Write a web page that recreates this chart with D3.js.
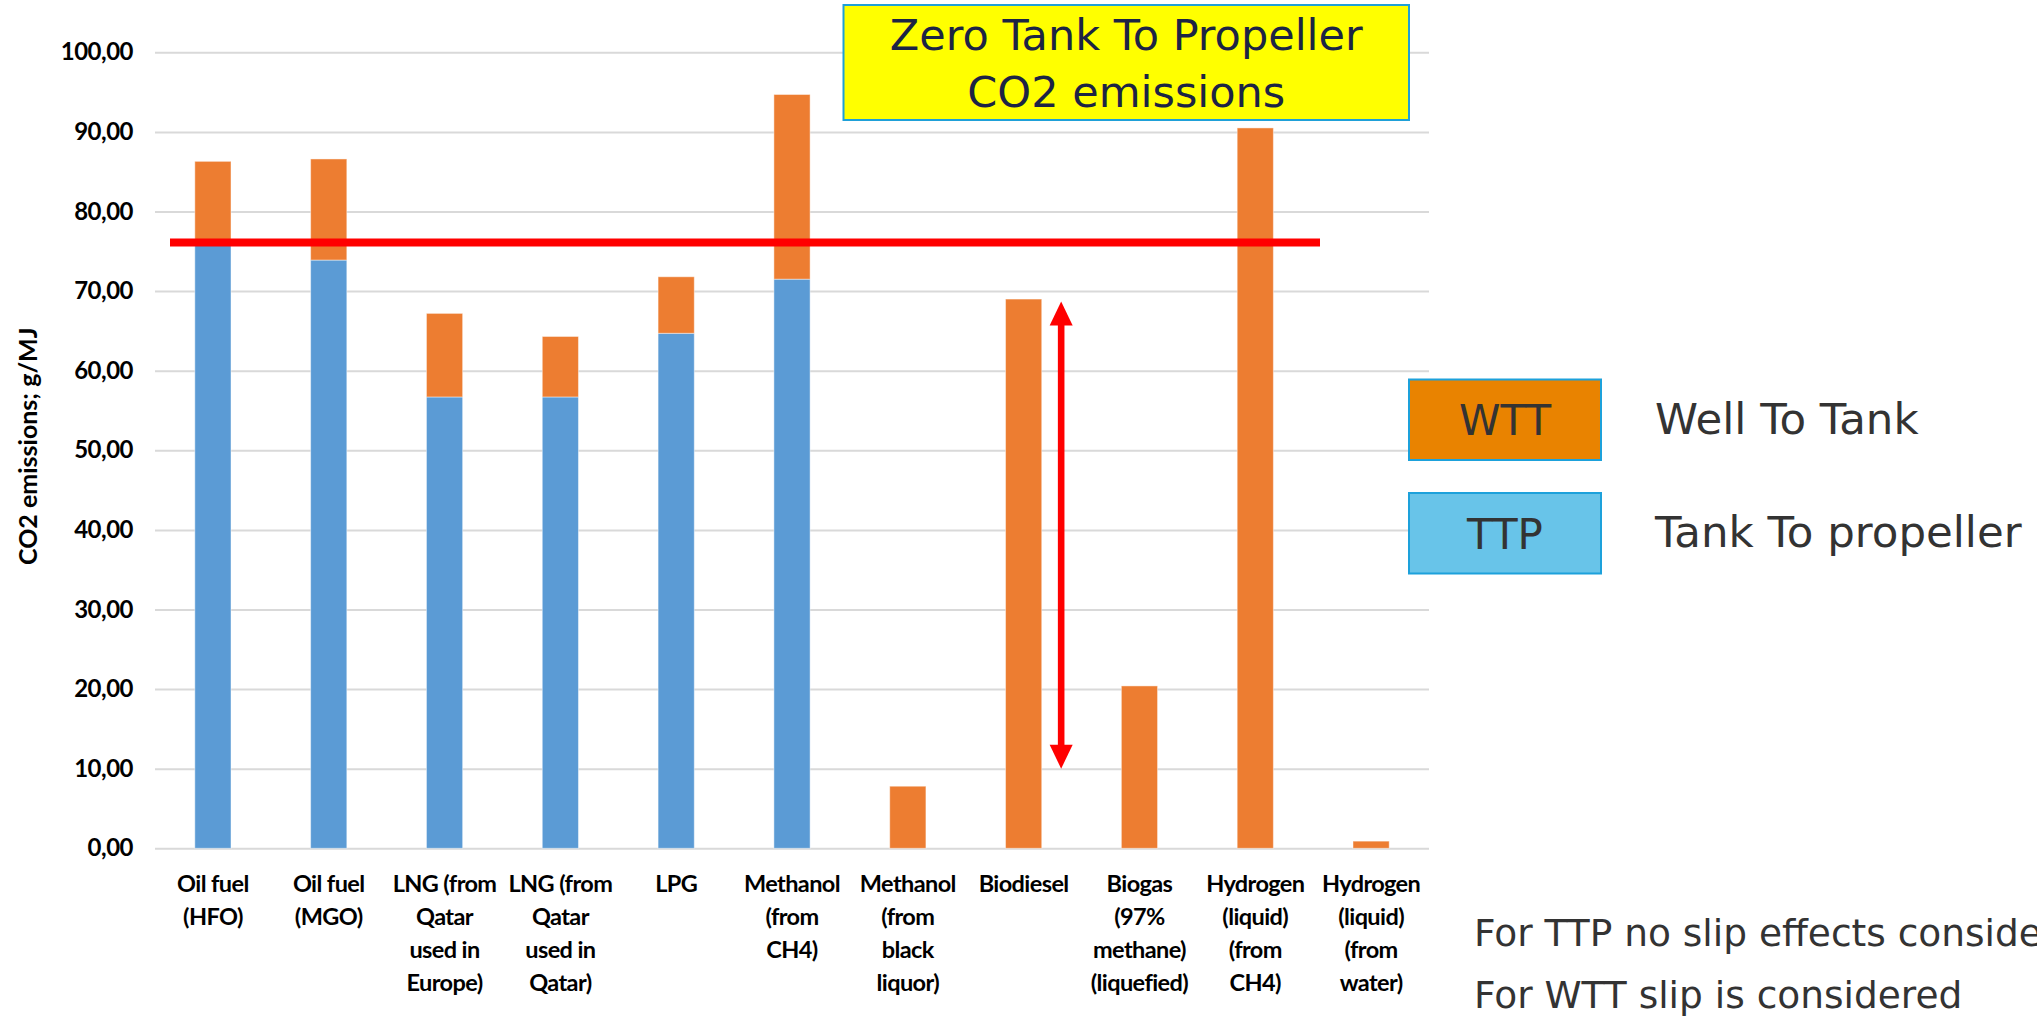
<!DOCTYPE html>
<html>
<head>
<meta charset="utf-8">
<script src="https://cdn.jsdelivr.net/npm/d3@7"></script>
<style>
  html, body { margin: 0; padding: 0; background: #fff; }
  svg { display: block; }
</style>
</head>
<body>
<svg id="chart" width="2037" height="1024"></svg>
<script>
// Fuel pathways (multi-line axis labels)
const categories = [
  ["Oil fuel", "(HFO)"],
  ["Oil fuel", "(MGO)"],
  ["LNG (from", "Qatar", "used in", "Europe)"],
  ["LNG (from", "Qatar", "used in", "Qatar)"],
  ["LPG"],
  ["Methanol", "(from", "CH4)"],
  ["Methanol", "(from", "black", "liquor)"],
  ["Biodiesel"],
  ["Biogas", "(97%", "methane)", "(liquefied)"],
  ["Hydrogen", "(liquid)", "(from", "CH4)"],
  ["Hydrogen", "(liquid)", "(from", "water)"]
];

// CO2 emissions, g/MJ
const ttpValues = [76.0, 73.9, 56.7, 56.7, 64.7, 71.5, 0, 0, 0, 0, 0];
const wttValues = [10.3, 12.7, 10.5, 7.6, 7.1, 23.2, 7.8, 69.0, 20.4, 90.5, 0.9];

const yTicks = [0, 10, 20, 30, 40, 50, 60, 70, 80, 90, 100];
const yTitle = "CO2 emissions; g/MJ";

// Reference level and the range bracketed by the double arrow
const limitValue = 76.1;
const arrowRange = [10.0, 68.7];

const titleLines = ["Zero Tank To Propeller", "CO2 emissions"];
const legendItems = [
  { key: "WTT", label: "Well To Tank" },
  { key: "TTP", label: "Tank To propeller" }
];
const notes = ["For TTP no slip effects considered", "For WTT slip is considered"];

// ---------------------------------------------------------------
const svg = d3.select("#chart");
const plot = { left: 155, right: 1429, top: 52.3, bottom: 848.3 };

const colors = { TTP: "#5b9bd5", WTT: "#ed7d31" };
const legendFill = { WTT: "#e98300", TTP: "#68c4e9" };

const rows = categories.map((c, i) => ({ i, TTP: ttpValues[i], WTT: wttValues[i] }));

const x = d3.scaleBand()
  .domain(d3.range(categories.length))
  .range([plot.left, plot.right])
  .paddingInner(0.6875)
  .paddingOuter(0.34375);

const y = d3.scaleLinear().domain([0, 100]).range([plot.bottom, plot.top]);

const comma = d3.formatLocale({ decimal: ",", thousands: ".", grouping: [3], currency: ["", ""] }).format(".2f");

// Gridlines and tick labels
const yAxis = d3.axisLeft(y)
  .tickValues(yTicks)
  .tickSize(-(plot.right - plot.left))
  .tickSizeOuter(0)
  .tickPadding(22)
  .tickFormat(comma);

const gy = svg.append("g")
  .attr("transform", `translate(${plot.left},0)`)
  .call(yAxis);
gy.select(".domain").remove();
gy.selectAll(".tick line").attr("stroke", "#d9d9d9").attr("stroke-width", 2);
gy.selectAll(".tick text")
  .attr("fill", "#000")
  .style("font-family", "Lato, 'Open Sans', sans-serif")
  .style("font-weight", "700")
  .style("font-size", "24px")
  .style("letter-spacing", "-0.5px");

// Y axis title
svg.append("text")
  .attr("transform", `translate(37,${(plot.top + plot.bottom) / 2 - 4}) rotate(-90)`)
  .attr("text-anchor", "middle")
  .attr("fill", "#000")
  .style("font-family", "Lato, 'Open Sans', sans-serif")
  .style("font-weight", "700")
  .style("font-size", "25px")
  .text(yTitle);

// Stacked bars
const stack = d3.stack().keys(["TTP", "WTT"]);
const series = stack(rows);

svg.append("g").selectAll("g")
  .data(series)
  .join("g")
  .attr("fill", d => colors[d.key])
  .selectAll("rect")
  .data(d => d.filter(s => s[1] - s[0] > 0))
  .join("rect")
  .attr("x", d => x(d.data.i))
  .attr("width", x.bandwidth())
  .attr("y", d => y(d[1]))
  .attr("height", d => y(d[0]) - y(d[1]))
  .attr("stroke", "rgba(255,255,255,0.45)")
  .attr("stroke-width", 1);

// Category labels
const labelG = svg.append("g")
  .style("font-family", "Lato, 'Open Sans', sans-serif")
  .style("font-weight", "700")
  .style("font-size", "23.5px")
  .attr("fill", "#000")
  .attr("text-anchor", "middle");

labelG.selectAll("text")
  .data(categories)
  .join("text")
  .attr("x", (d, i) => x(i) + x.bandwidth() / 2)
  .attr("y", 892)
  .style("letter-spacing", "-0.6px")
  .selectAll("tspan")
  .data(d => d)
  .join("tspan")
  .attr("x", function () { return d3.select(this.parentNode).attr("x"); })
  .attr("dy", (d, j) => j === 0 ? 0 : 33)
  .text(d => d);

// Reference line
svg.append("line")
  .attr("x1", plot.left + 15)
  .attr("x2", plot.right - 109)
  .attr("y1", y(limitValue))
  .attr("y2", y(limitValue))
  .attr("stroke", "#ff0000")
  .attr("stroke-width", 8);

// Double-headed arrow beside the biodiesel bar
const ax = x(7) - x.step() * x.paddingInner() / 2 + x.step() * 0.824;
const yTop = y(arrowRange[1]);
const yBot = y(arrowRange[0]);
const headH = 24, headW = 23;
const arrow = svg.append("g").attr("fill", "#ff0000");
arrow.append("rect")
  .attr("x", ax - 3.3).attr("width", 6.6)
  .attr("y", yTop + headH - 1).attr("height", yBot - yTop - 2 * headH + 2);
arrow.append("path")
  .attr("d", `M${ax},${yTop} L${ax + headW / 2},${yTop + headH} L${ax - headW / 2},${yTop + headH} Z`);
arrow.append("path")
  .attr("d", `M${ax},${yBot} L${ax + headW / 2},${yBot - headH} L${ax - headW / 2},${yBot - headH} Z`);

// Title box
const tb = { x: 843.5, y: 5, w: 565.5, h: 115 };
svg.append("rect")
  .attr("x", tb.x).attr("y", tb.y).attr("width", tb.w).attr("height", tb.h)
  .attr("fill", "#ffff00").attr("stroke", "#1fa0d8").attr("stroke-width", 2);
svg.append("g")
  .attr("text-anchor", "middle")
  .attr("fill", "#1c2444")
  .style("font-family", "'DejaVu Sans', Verdana, sans-serif")
  .style("font-size", "43px")
  .selectAll("text")
  .data(titleLines)
  .join("text")
  .attr("x", tb.x + tb.w / 2)
  .attr("y", (d, i) => 50 + i * 57)
  .text(d => d);

// Legend
const lg = svg.append("g")
  .style("font-family", "'DejaVu Sans', Verdana, sans-serif");
legendItems.forEach((item, i) => {
  const top = 379.5 + i * 113.5;
  lg.append("rect")
    .attr("x", 1409).attr("y", top).attr("width", 192).attr("height", 80.5)
    .attr("fill", legendFill[item.key]).attr("stroke", "#1da1db").attr("stroke-width", 2);
  lg.append("text")
    .attr("x", 1505).attr("y", top + 55.5)
    .attr("text-anchor", "middle").attr("fill", "#333")
    .style("font-size", "42px")
    .text(item.key);
  lg.append("text")
    .attr("x", 1655).attr("y", top + 54)
    .attr("fill", "#333")
    .style("font-size", "43.5px")
    .text(item.label);
});

// Notes
svg.append("g")
  .attr("fill", "#333")
  .style("font-family", "'DejaVu Sans', Verdana, sans-serif")
  .style("font-size", "37.5px")
  .selectAll("text")
  .data(notes)
  .join("text")
  .attr("x", 1474)
  .attr("y", (d, i) => 946 + i * 62)
  .text(d => d);
</script>
</body>
</html>
